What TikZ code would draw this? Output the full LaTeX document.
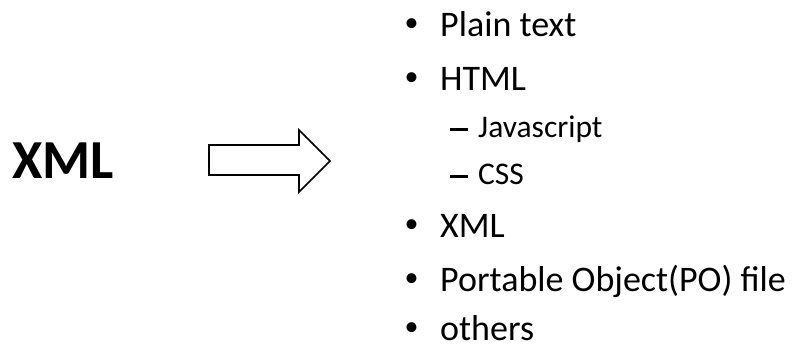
\documentclass[tikz,border=0pt]{standalone}
\usepackage{fontspec}
\setmainfont{Carlito}
\usetikzlibrary{positioning}

\newcommand{\itembullet}{\makebox[38pt][l]{\hspace{2.5pt}\raisebox{4.8pt}{\fontsize{28}{28}\selectfont •}}}
\newcommand{\itemdash}{\makebox[28pt][l]{\rule[6.4pt]{18pt}{2.8pt}}}

\begin{document}
\begin{tikzpicture}[
            x=1pt, y=-1pt,
            title/.style={inner sep=0pt, anchor=base west, font=\fontsize{55}{60}\selectfont\bfseries},
            item/.style={inner sep=0pt, anchor=base west, font=\fontsize{36}{40}\selectfont},
            subitem/.style={inner sep=0pt, anchor=base west, font=\fontsize{31.5}{36}\selectfont},
            block_arrow/.style={draw, line width=1.6pt, fill=white, line join=miter}
        ]
            \useasboundingbox (0,0) rectangle (798,345);

            % --- Left side ---
            \node[title] (xml_title) at (12,178) {XML};

            % --- Block arrow ---
            \draw[block_arrow] (209,145) -- (299,145) -- (299,130) -- (330,161)
                -- (299,192) -- (299,175) -- (209,175) -- cycle;

            % --- List of outputs ---
            \node[item] (plain) at (402,36.7) {\itembullet Plain text};
            \node[item] (html) at (402,90.7) {\itembullet HTML};
            \node[subitem] (js) at (450,137) {\itemdash Javascript};
            \node[subitem] (css) at (450,184) {\itemdash CSS};
            \node[item] (xml) at (402,237) {\itembullet XML};
            \node[item] (po) at (402,291) {\itembullet Portable Object(PO) file};
            \node[item] (others) at (402,340) {\itembullet others};

        \end{tikzpicture}
\end{document}
